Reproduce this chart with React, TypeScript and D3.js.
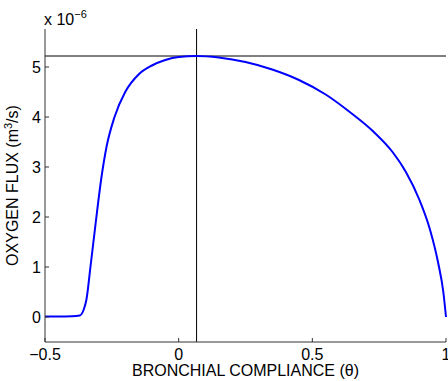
import React from 'react';
import * as d3 from 'd3';

// bronchial compliance (theta) vs oxygen flux (x 1e-6 m^3/s)
const theta = [-0.5, -0.45, -0.4, -0.37, -0.355, -0.345, -0.33, -0.31, -0.29, -0.27, -0.24, -0.2, -0.15, -0.1, -0.05, 0, 0.067, 0.15, 0.25, 0.35, 0.45, 0.55, 0.64, 0.73, 0.8, 0.85, 0.9, 0.94, 0.97, 0.99, 1.0];
const flux = [0.01, 0.01, 0.015, 0.03, 0.15, 0.35, 1.0, 1.9, 2.75, 3.4, 4.0, 4.5, 4.85, 5.03, 5.14, 5.2, 5.22, 5.19, 5.1, 4.95, 4.74, 4.45, 4.1, 3.7, 3.3, 2.9, 2.35, 1.75, 1.1, 0.5, 0.0];

const xTicks = [-0.5, 0, 0.5, 1];
const yTicks = [0, 1, 2, 3, 4, 5];

// optimum marker
const peakTheta = 0.067;
const peakFlux = 5.22;

const App = () => {
  const width = 448;
  const height = 381;
  const margin = { top: 29, right: 2, bottom: 39, left: 45 };

  const x = d3.scaleLinear().domain([-0.5, 1]).range([margin.left, width - margin.right]);
  const y = d3.scaleLinear().domain([-0.5, 5.76]).range([height - margin.bottom, margin.top]);

  const pts = theta.map((t, i) => [t, flux[i]] as [number, number]);
  const line = d3.line<[number, number]>()
    .x(d => x(d[0]))
    .y(d => y(d[1]))
    .curve(d3.curveMonotoneX);

  const x0 = margin.left;
  const y0 = height - margin.bottom;
  const axisColor = '#333';
  const font = 'Liberation Sans, Arial, sans-serif';
  const fs = 16;

  const fmt = (v: number) => (v < 0 ? '\u2212' + Math.abs(v) : String(v));

  return (
    <svg width={width} height={height} style={{ position: 'absolute', left: 0, top: 0, background: '#fff' }} fontFamily={font}>
      {/* reference lines through the optimum */}
      <line x1={x0} x2={x(1)} y1={y(peakFlux)} y2={y(peakFlux)} stroke="#000" strokeWidth={1} />
      <line x1={x(peakTheta)} x2={x(peakTheta)} y1={margin.top} y2={y0} stroke="#000" strokeWidth={1} />

      {/* curve */}
      <path d={line(pts) || ''} fill="none" stroke="#0000ff" strokeWidth={2} />

      {/* axes */}
      <line x1={x0} x2={x0} y1={margin.top} y2={y0} stroke={axisColor} />
      <line x1={x0} x2={x(1)} y1={y0} y2={y0} stroke={axisColor} />

      {yTicks.map(t => (
        <g key={t}>
          <line x1={x0} x2={x0 + 4} y1={y(t)} y2={y(t)} stroke={axisColor} />
          <text x={x0 - 4} y={y(t)} dy="0.36em" textAnchor="end" fontSize={fs}>{t}</text>
        </g>
      ))}
      {xTicks.map(t => (
        <g key={t}>
          <line x1={x(t)} x2={x(t)} y1={y0} y2={y0 - 4} stroke={axisColor} />
          <text x={x(t)} y={360} textAnchor="middle" fontSize={fs}>{fmt(t)}</text>
        </g>
      ))}

      <text x={x0 - 1} y={25} fontSize={fs}>
        x 10<tspan dy={-7} fontSize={11}>{'\u22126'}</tspan>
      </text>

      <text transform={`translate(18,${(margin.top + y0) / 2}) rotate(-90)`} textAnchor="middle" fontSize={fs}>
        OXYGEN FLUX (m<tspan dy={-6} fontSize={11}>3</tspan><tspan dy={6}>/s)</tspan>
      </text>

      <text x={(x0 + x(1)) / 2} y={376} textAnchor="middle" fontSize={fs}>BRONCHIAL COMPLIANCE (θ)</text>
    </svg>
  );
};

export default App;
